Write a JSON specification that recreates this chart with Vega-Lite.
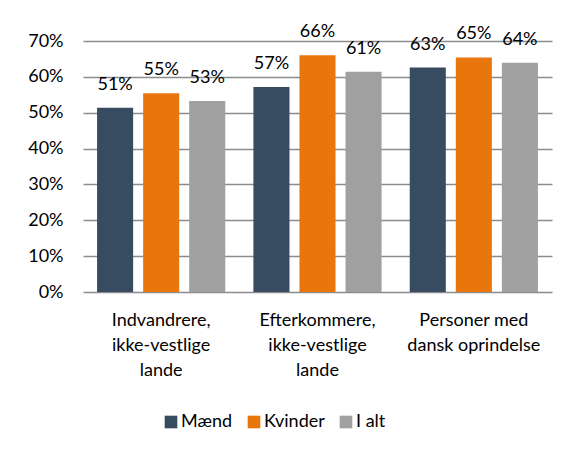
{
  "$schema": "https://vega.github.io/schema/vega-lite/v6.json",
  "width": 469,
  "height": 251,
  "autosize": {"type": "none"},
  "padding": {"left": 83, "top": 41, "right": 24, "bottom": 161},
  "background": "white",
  "data": {
    "values": [
      {"gruppe": "Indvandrere, ikke-vestlige lande", "koen": "Mænd", "andel": 0.514},
      {"gruppe": "Indvandrere, ikke-vestlige lande", "koen": "Kvinder", "andel": 0.554},
      {"gruppe": "Indvandrere, ikke-vestlige lande", "koen": "I alt", "andel": 0.533},
      {"gruppe": "Efterkommere, ikke-vestlige lande", "koen": "Mænd", "andel": 0.572},
      {"gruppe": "Efterkommere, ikke-vestlige lande", "koen": "Kvinder", "andel": 0.66},
      {"gruppe": "Efterkommere, ikke-vestlige lande", "koen": "I alt", "andel": 0.614},
      {"gruppe": "Personer med dansk oprindelse", "koen": "Mænd", "andel": 0.626},
      {"gruppe": "Personer med dansk oprindelse", "koen": "Kvinder", "andel": 0.654},
      {"gruppe": "Personer med dansk oprindelse", "koen": "I alt", "andel": 0.639}
    ]
  },
  "encoding": {
    "x": {
      "field": "gruppe",
      "type": "nominal",
      "sort": null,
      "scale": {"paddingInner": 0.18, "paddingOuter": 0.09},
      "axis": {
        "title": null,
        "labelAngle": 0,
        "domain": false,
        "ticks": false,
        "labelPadding": 19,
        "labelFont": "Lato",
        "labelFontSize": 18,
        "labelColor": "#000000",
        "labelLineHeight": 25,
        "labelBaseline": "top",
        "labelLimit": 200,
        "labelExpr": "datum.value == 'Indvandrere, ikke-vestlige lande' ? ['Indvandrere,', 'ikke-vestlige', 'lande'] : datum.value == 'Efterkommere, ikke-vestlige lande' ? ['Efterkommere,', 'ikke-vestlige', 'lande'] : ['Personer med', 'dansk oprindelse']"
      }
    },
    "xOffset": {
      "field": "koen",
      "type": "nominal",
      "sort": ["Mænd", "Kvinder", "I alt"],
      "scale": {"paddingInner": 0.217, "paddingOuter": 0}
    },
    "y": {
      "field": "andel",
      "type": "quantitative",
      "scale": {"domain": [0, 0.7], "nice": false},
      "axis": {
        "title": null,
        "format": ".0%",
        "values": [0, 0.1, 0.2, 0.3, 0.4, 0.5, 0.6, 0.7],
        "labelOverlap": false,
        "domain": false,
        "ticks": false,
        "labelPadding": 20,
        "labelFont": "Lato",
        "labelFontSize": 18,
        "labelColor": "#000000",
        "gridColor": "#8c8c8c",
        "gridWidth": 1.5
      }
    }
  },
  "layer": [
    {
      "mark": {"type": "bar"},
      "encoding": {
        "color": {
          "field": "koen",
          "type": "nominal",
          "sort": ["Mænd", "Kvinder", "I alt"],
          "scale": {"domain": ["Mænd", "Kvinder", "I alt"], "range": ["#374c60", "#e8760c", "#a0a0a0"]},
          "legend": {
            "title": null,
            "orient": "none",
            "direction": "horizontal",
            "legendX": 79,
            "legendY": 372,
            "symbolType": "square",
            "symbolSize": 160,
            "symbolStrokeWidth": 0,
            "labelFont": "Lato",
            "labelFontSize": 18,
            "labelColor": "#000000",
            "labelOffset": 1,
            "columnPadding": 12
          }
        }
      }
    },
    {
      "mark": {"type": "text", "baseline": "middle", "dy": -23, "font": "Lato", "fontSize": 18, "color": "#000000"},
      "encoding": {
        "text": {"field": "andel", "type": "quantitative", "format": ".0%"}
      }
    }
  ],
  "config": {"view": {"stroke": null}}
}
